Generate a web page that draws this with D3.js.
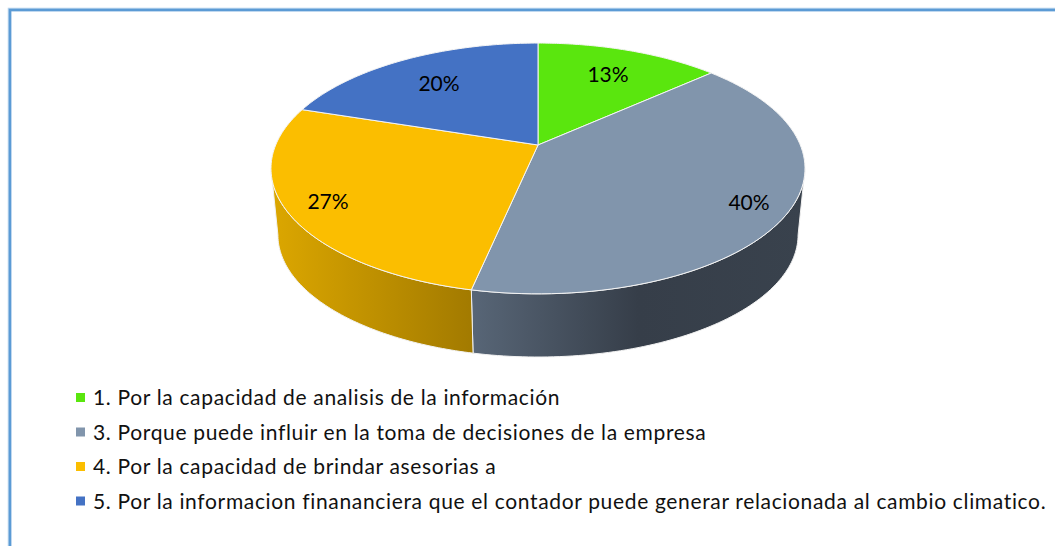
<!DOCTYPE html>
<html><head><meta charset="utf-8">
<style>html,body{margin:0;padding:0;background:#fff}svg{display:block}</style>
<script src="https://cdn.jsdelivr.net/npm/d3@7"></script></head>
<body><svg id="c" width="1055" height="546"></svg>
<script>
const categories = [
  "1. Por la capacidad de analisis de la información",
  "3. Porque puede influir en la toma de decisiones de la empresa",
  "4. Por la capacidad de brindar asesorias a",
  "5. Por la informacion finananciera que el contador puede generar relacionada al cambio climatico."
];
const seriesValues = [13.33, 40, 26.67, 20];
const topColors = ["#5ae60e", "#8195ac", "#fbbe00", "#4472c4"];

const svg = d3.select("#c");
const W = 1055, H = 546;
const defs = svg.append("defs");

const pie = d3.pie().sort(null).value(d => d);
const arcs = pie(seriesValues);

// perspective projection of the unit circle
const k = -0.187, cx = 538;
function project(a, top) {
  const u = Math.sin(a), v = -Math.cos(a), w = 1 + k * v;
  if (top) return [cx + 262.3 * u / w, 145 + 121 * v / w];
  return [cx + 255.5 * u / w, 212 + 117.9 * v / w];
}
const samples = (a0, a1) => d3.range(0, 81).map(i => a0 + (a1 - a0) * i / 80);
const line = d3.line();

// frame
svg.append("rect").attr("x", 9.5).attr("y", 9.5).attr("width", W + 20).attr("height", H + 20)
  .attr("fill", "none").attr("stroke", "#bcd6ee").attr("stroke-width", 3.6);
svg.append("rect").attr("x", 10).attr("y", 10).attr("width", W + 20).attr("height", H + 20)
  .attr("fill", "none").attr("stroke", "#5b9bd5").attr("stroke-width", 2.6);

// side wall
const sideGrads = [
  null,
  [[0, "#586677"], [0.5, "#363e49"], [1, "#39424d"]],
  [[0, "#dca700"], [1, "#a27a00"]],
  null
];
const visA0 = 100.8 * Math.PI / 180, visA1 = 259.2 * Math.PI / 180;
arcs.forEach((d, i) => {
  const a0 = Math.max(d.startAngle, visA0), a1 = Math.min(d.endAngle, visA1);
  if (a1 <= a0) return;
  const upper = samples(a0, a1).map(a => project(a, true));
  const lower = samples(a1, a0).map(a => project(a, false));
  const pts = upper.concat(lower);
  const xs = d3.extent(pts, p => p[0]);
  const g = defs.append("linearGradient").attr("id", "side" + i)
    .attr("gradientUnits", "userSpaceOnUse")
    .attr("x1", xs[0]).attr("x2", xs[1]).attr("y1", 0).attr("y2", 0);
  sideGrads[i].forEach(s => g.append("stop").attr("offset", s[0]).attr("stop-color", s[1]));
  svg.append("path").attr("d", line(pts) + "Z").attr("fill", `url(#side${i})`)
    .attr("stroke", "#f2f2f2").attr("stroke-width", 1).attr("stroke-linejoin", "round");
});

// top face
arcs.forEach((d, i) => {
  const pts = [[cx, 145]].concat(samples(d.startAngle, d.endAngle).map(a => project(a, true)));
  svg.append("path").attr("d", line(pts) + "Z").attr("fill", topColors[i])
    .attr("stroke", "#f4f4f4").attr("stroke-width", 1).attr("stroke-linejoin", "round");
});

// value labels
const total = d3.sum(seriesValues);
const labelPos = [[608, 75], [749, 203], [328, 202], [439, 84]];
arcs.forEach((d, i) => {
  svg.append("text").attr("x", labelPos[i][0]).attr("y", labelPos[i][1] + 7)
    .attr("text-anchor", "middle").attr("font-family", "Lato, sans-serif")
    .attr("font-size", 21).attr("fill", "#000")
    .text(d3.format(".0%")(d.value / total));
});

// legend
const yLegend = d3.scalePoint().domain(categories).range([398, 501.5]);
categories.forEach((c, i) => {
  const y = yLegend(c);
  svg.append("rect").attr("x", 76).attr("y", y - 5).attr("width", 9).attr("height", 9).attr("fill", topColors[i]);
  svg.append("text").attr("x", 93).attr("y", y + 7).attr("font-family", "Lato, sans-serif")
    .attr("font-size", 21).attr("letter-spacing", 0.66).attr("fill", "#111").text(c);
});
</script></body></html>
